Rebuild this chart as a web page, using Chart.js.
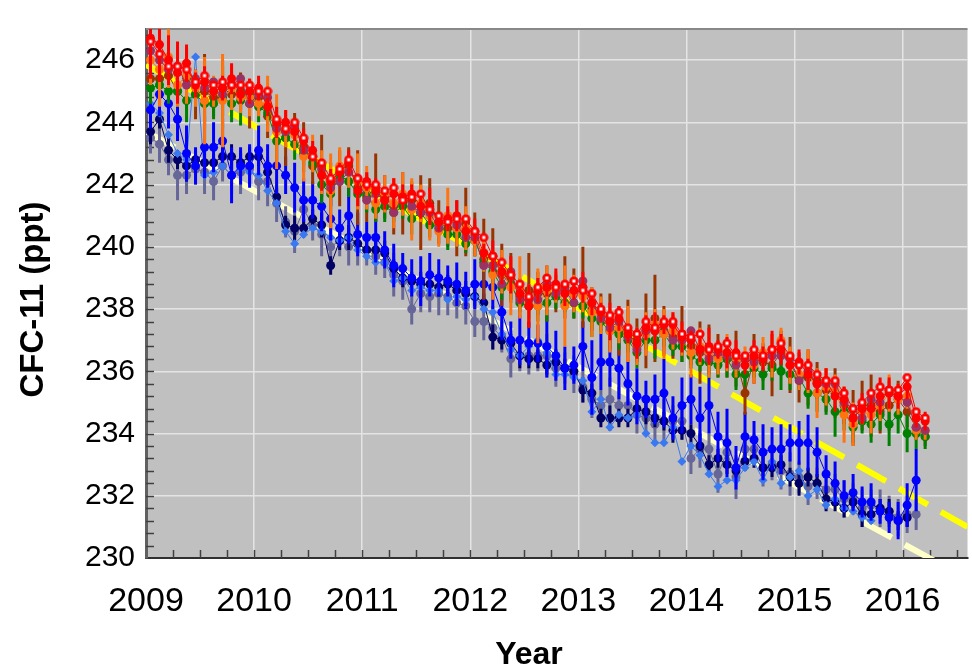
<!DOCTYPE html>
<html>
<head>
<meta charset="utf-8">
<script src="https://cdn.jsdelivr.net/npm/chart.js@4.4.1/dist/chart.umd.min.js"></script>
<style>
  html, body { margin: 0; padding: 0; background: #fff; }
  #wrap { width: 972px; height: 669px; }
</style>
</head>
<body>
<div id="wrap"><canvas id="chart" width="972" height="669"></canvas></div>
<script>
// monthly means (ppt), first value = Jan 2009
const startYear = 2009;
const yearTicks = [2009, 2010, 2011, 2012, 2013, 2014, 2015, 2016];
const ppTicks = [230, 232, 234, 236, 238, 240, 242, 244, 246];

// northern stations
const redRing = [
  246.6,246.2,245.8,245.8,245.7,245.3,245.5,245.2,245.3,245.2,245.2,245.2,
  245.0,245.0,244.1,243.8,244.0,243.5,242.9,242.7,242.2,242.5,242.8,242.2,
  242.0,242.0,241.8,241.9,241.5,241.6,241.7,241.2,241.0,240.8,240.9,240.9,
  240.5,240.3,239.7,239.5,239.1,238.8,238.4,238.7,239.0,238.7,238.8,238.9,
  238.6,238.5,238.0,237.8,237.9,237.4,237.2,237.6,237.4,237.6,237.6,237.2,
  237.1,237.2,236.7,236.8,236.9,236.5,236.5,236.7,236.5,236.7,236.9,236.5,
  236.2,236.2,235.9,235.7,235.7,235.3,234.8,235.0,235.3,235.5,235.4,235.4,
  235.8,234.7,234.5];
const red = [
  246.7,246.5,246.0,245.6,245.9,245.2,245.3,245.0,245.1,245.4,244.9,245.0,
  245.1,244.5,244.0,244.0,243.7,243.4,243.1,242.3,242.1,242.4,242.7,241.8,
  242.1,241.8,241.5,241.7,241.6,241.7,241.3,241.3,240.8,240.9,241.0,240.5,
  240.5,239.8,239.7,239.2,239.1,238.5,238.1,238.6,238.7,238.8,238.5,238.6,
  238.7,238.2,237.9,237.6,237.7,237.2,236.9,237.4,237.3,237.5,237.5,237.1,
  237.0,236.7,236.8,236.7,236.6,236.6,236.2,236.5,236.4,236.7,236.7,236.2,
  236.3,235.9,235.6,235.7,235.2,235.1,234.5,234.8,234.8,235.2,235.3,235.2,
  235.5,234.5,234.4];
const orange = [
  246.0,245.7,246.1,245.2,245.5,245.1,244.7,245.0,244.7,245.1,244.8,244.8,
  244.6,244.6,243.7,243.8,243.6,242.9,243.0,242.4,241.8,242.6,242.4,242.1,
  241.9,241.4,241.7,241.4,241.7,241.2,241.4,241.0,240.5,241.0,240.6,240.6,
  240.2,239.8,239.1,239.2,238.7,238.7,238.2,238.1,238.6,238.7,238.1,238.5,
  238.4,237.9,237.8,237.3,237.4,237.2,236.8,237.2,237.5,237.2,237.3,237.0,
  236.6,236.8,236.5,236.4,236.6,236.3,236.4,236.2,236.6,236.5,237.0,236.2,
  235.9,236.0,235.3,235.5,235.4,234.6,234.3,234.7,234.6,234.9,235.3,235.1,
  235.2,234.1,234.1];
const brown = [
  245.4,245.4,245.5,245.0,245.4,244.9,245.0,244.8,245.1,244.9,245.0,244.6,
  244.8,244.2,243.9,243.5,243.8,243.2,242.6,242.6,242.0,242.2,242.6,241.9,
  241.6,241.9,241.6,241.3,241.4,241.5,241.1,241.4,240.8,240.6,240.6,240.8,
  240.4,239.6,239.7,239.1,239.0,238.4,238.6,238.5,238.5,238.5,238.7,238.5,
  238.7,238.0,237.9,237.6,237.3,237.3,237.0,237.3,237.7,237.3,237.1,237.2,
  236.8,236.6,236.7,236.5,236.4,236.4,235.3,236.4,236.3,236.2,236.6,236.2,
  235.8,235.8,235.7,235.4,235.3,234.9,234.5,234.9,234.9,234.7,234.9,235.1,
  234.7,234.2,233.9];
const green = [
  245.1,245.2,245.0,245.0,244.7,244.9,244.6,244.6,244.8,244.6,244.7,244.9,
  244.5,244.3,243.4,243.5,243.3,243.0,242.7,242.0,241.7,242.3,242.1,241.7,
  241.7,241.2,241.3,241.1,241.3,240.9,241.1,240.7,240.7,240.4,240.4,240.1,
  240.2,239.5,239.2,238.7,238.8,238.2,238.1,238.1,238.2,238.4,238.2,238.2,
  238.1,237.7,237.6,237.3,237.2,237.0,236.6,237.0,237.0,237.2,236.8,236.8,
  236.5,236.3,236.3,236.2,236.4,235.9,235.9,236.1,235.9,236.1,236.0,235.9,
  235.8,235.3,235.3,235.1,234.7,234.7,234.2,234.4,234.3,234.6,234.3,234.6,
  234.0,234.0,233.9];
const purple = [
  246.3,246.0,245.7,245.8,245.2,245.4,245.1,245.3,244.9,245.2,245.4,244.6,
  244.9,244.8,243.8,243.7,243.9,243.1,242.9,242.5,241.9,242.1,242.4,242.2,
  241.5,241.7,241.5,241.1,241.6,241.3,241.1,241.1,240.6,240.9,240.7,240.3,
  240.3,239.4,239.4,238.8,239.2,238.3,238.3,238.3,238.8,238.5,238.6,238.2,
  238.9,238.2,237.7,237.4,237.6,237.1,236.7,237.3,237.3,237.5,237.0,237.0,
  237.3,236.7,236.4,236.6,236.5,236.2,236.4,236.3,236.4,236.5,236.5,236.4,
  235.7,236.0,235.6,235.6,235.6,235.0,234.8,234.5,235.1,235.0,235.4,235.2,
  235.0,234.2,234.1];

// southern stations
const blue = [
  244.4,244.9,244.6,244.1,243.0,242.6,243.2,243.2,243.4,242.3,242.6,242.6,
  243.1,242.6,242.6,242.3,241.9,241.5,241.5,241.3,240.9,240.6,241.0,240.4,
  240.3,240.3,239.9,239.4,239.3,239.0,238.9,239.1,239.0,238.9,238.8,238.6,
  238.8,238.8,238.7,237.9,237.0,237.0,236.9,236.9,236.8,236.5,236.1,236.2,
  236.8,235.8,236.3,236.3,236.1,235.6,235.2,235.1,235.1,235.3,234.5,234.9,
  235.1,234.5,234.9,233.9,233.7,232.9,233.9,233.8,233.4,233.5,233.5,233.7,
  233.7,233.7,233.4,232.7,232.4,232.0,232.1,231.8,231.8,231.5,231.3,231.2,
  231.7,232.5];
const navy = [
  243.7,244.1,243.1,242.8,242.6,242.8,242.7,242.7,242.9,242.9,242.7,242.9,
  242.9,242.4,241.6,240.7,240.6,240.6,240.9,240.7,239.4,240.2,240.3,240.1,
  239.9,239.9,239.8,239.3,239.0,238.9,238.8,238.8,238.7,238.8,238.6,238.5,
  238.4,238.2,237.1,237.0,236.9,236.5,236.4,236.4,236.2,236.3,236.1,236.0,
  235.4,235.3,234.5,234.5,234.5,234.5,234.8,234.7,234.5,234.4,234.1,234.1,
  234.0,233.6,233.0,233.2,233.0,232.8,233.1,233.2,232.9,232.9,233.0,232.6,
  232.4,232.6,232.4,231.9,231.8,231.6,231.8,231.4,231.4,231.6,231.5,231.2,
  231.3];
const lightBlue = [
  244.6,244.3,243.6,243.0,242.8,246.1,242.3,242.4,242.6,242.3,242.5,242.4,
  242.3,241.8,241.4,240.5,240.1,240.4,240.6,240.5,240.3,240.2,240.3,239.9,
  239.7,239.5,239.5,238.9,239.0,238.6,238.7,238.6,238.6,238.3,238.4,238.3,
  238.4,238.0,237.9,237.2,236.7,236.5,236.8,237.0,236.6,235.9,235.9,235.8,
  235.7,234.7,235.1,234.2,234.6,234.5,234.6,234.0,233.7,233.7,234.2,233.1,
  233.6,233.3,232.7,232.3,232.5,232.5,232.9,233.1,232.5,233.1,232.4,232.6,
  232.8,232.0,232.2,231.7,231.9,231.6,231.5,231.3,231.2];
const slate = [
  243.5,243.3,242.8,242.3,242.3,242.5,242.4,242.1,242.6,242.3,242.4,242.5,
  242.1,242.1,241.4,240.8,240.5,241.2,240.7,240.4,240.0,240.2,240.0,240.1,
  239.9,239.7,239.5,239.1,238.9,238.0,238.5,238.4,238.5,238.4,238.2,238.1,
  237.6,237.6,237.4,237.1,236.4,236.5,236.5,236.5,236.5,236.1,236.1,235.9,
  235.5,235.1,234.9,235.1,234.9,234.9,234.6,234.5,234.3,234.4,234.4,234.4,
  233.2,233.5,233.5,232.7,233.4,232.6,233.5,233.5,232.9,233.0,232.8,232.7,
  232.6,232.3,232.4,232.2,232.2,231.9,231.9,231.6,231.7,231.6,231.5,231.3,
  231.4,231.4];

// 1-sigma error bars (ppt)
const redErr = [
  1.3,1.2,0.8,1.0,0.6,0.4,0.5,0.3,0.4,0.5,0.3,0.4,
  0.4,0.3,0.5,0.4,0.3,0.4,0.3,0.5,0.4,0.3,0.4,0.5,
  0.3,0.4,0.3,0.5,0.4,0.3,0.4,0.6,0.3,0.4,0.5,0.3,
  0.4,0.3,0.5,0.4,0.6,0.3,0.7,0.4,0.3,0.5,0.4,0.3,
  0.5,0.4,0.3,0.6,0.4,0.3,0.5,0.4,0.6,0.3,0.4,0.5,
  0.3,0.4,0.6,0.3,0.5,0.4,0.3,0.5,0.4,0.6,0.5,0.4,
  0.4,0.5,0.3,0.4,0.5,0.4,0.3,0.5,0.4,0.6,0.5,0.4,
  0.4,0.3,0.3];
const orangeErr = [
  0.8,1.2,1.0,0.7,0.9,0.6,1.4,0.5,1.5,0.7,0.5,0.6,
  0.4,0.9,1.2,0.6,0.5,0.8,0.6,0.7,1.2,0.6,0.5,0.9,
  0.7,0.5,0.6,0.8,0.7,1.0,0.6,0.8,0.5,0.9,0.6,0.7,
  0.5,0.6,0.8,0.7,0.9,1.0,0.6,1.2,0.8,0.5,1.3,0.6,
  0.5,0.8,0.6,0.7,0.5,0.9,0.6,0.7,0.5,0.8,0.6,0.5,
  0.8,0.6,0.7,0.5,0.6,0.5,0.4,0.6,0.5,0.7,0.4,0.6,
  0.5,0.7,0.8,0.6,0.5,0.9,0.7,0.4,0.6,0.5,0.6,0.5,
  0.4,0.3,0.3];
const brownErr = [
  0.5,0.4,0.6,0.5,1.0,0.8,1.2,0.6,0.9,0.7,0.6,0.8,
  0.5,0.7,0.6,0.9,0.5,0.8,0.6,1.0,0.7,0.9,0.6,1.2,
  0.8,1.1,0.7,0.9,1.0,0.6,1.2,0.8,0.7,0.6,0.9,1.1,
  0.7,1.3,0.9,1.0,0.8,0.6,1.2,0.7,0.9,0.6,1.0,0.8,
  1.3,0.7,0.6,0.9,0.8,1.0,0.7,1.2,1.4,0.8,0.7,0.9,
  0.6,1.0,0.8,0.7,0.6,0.9,0.7,0.8,0.6,1.0,0.7,0.9,
  0.8,0.9,0.6,0.7,0.8,0.6,0.9,0.8,1.0,0.7,0.8,0.6,
  0.5,0.4,0.3];
const greenErr = [
  0.5,0.6,0.4,0.5,0.7,0.4,0.6,0.5,1.0,0.6,0.8,0.4,
  0.5,0.4,0.6,0.3,0.5,0.4,0.3,0.6,0.4,0.3,0.5,0.4,
  0.6,0.4,0.5,0.3,0.4,0.5,0.3,0.4,0.3,0.5,0.4,0.3,
  0.5,0.3,0.6,0.4,0.5,0.3,0.4,0.5,0.6,0.4,0.3,0.5,
  0.4,0.6,0.4,0.3,0.5,0.4,0.5,0.3,0.6,0.4,0.3,0.5,
  0.4,0.3,0.5,0.4,0.6,0.5,0.4,0.3,0.5,0.4,0.6,0.5,
  0.4,0.5,0.6,0.5,0.8,0.6,0.5,0.4,0.6,0.5,0.7,0.6,
  0.6,0.5,0.4];
const blueErr = [
  0.6,0.7,0.8,0.7,0.9,0.6,1.0,0.8,0.7,0.9,0.6,0.7,
  0.8,0.7,0.9,0.6,0.8,0.7,0.6,0.8,0.7,0.6,0.9,0.7,
  0.5,0.8,0.6,0.7,0.5,0.6,0.8,0.7,0.6,0.5,0.7,0.6,
  0.8,0.6,0.7,0.9,0.6,0.8,0.7,0.6,1.0,0.8,0.7,0.6,
  0.8,1.2,0.9,0.8,1.0,0.7,0.9,0.6,0.8,1.1,0.7,0.9,
  0.8,1.0,0.9,0.8,1.1,0.7,0.8,0.6,0.9,0.7,0.8,0.6,
  0.7,0.9,0.8,0.6,0.7,0.5,0.6,0.5,0.6,0.4,0.5,0.6,
  0.7,1.0];
const navyErr = [
  0.4,0.3,0.4,0.3,0.5,0.3,0.4,0.3,0.3,0.4,0.3,0.3,
  0.3,0.4,0.3,0.3,0.4,0.3,0.3,0.4,0.3,0.3,0.4,0.3,
  0.3,0.3,0.4,0.3,0.3,0.3,0.4,0.3,0.3,0.3,0.3,0.4,
  0.3,0.3,0.4,0.3,0.3,0.4,0.3,0.3,0.3,0.4,0.3,0.3,
  0.4,0.3,0.3,0.4,0.3,0.3,0.3,0.4,0.3,0.3,0.4,0.3,
  0.3,0.4,0.3,0.3,0.3,0.4,0.3,0.3,0.4,0.3,0.3,0.3,
  0.4,0.3,0.3,0.4,0.3,0.3,0.3,0.4,0.3,0.3,0.4,0.3,
  0.3];
const slateErr = [
  0.5,0.6,0.5,0.8,0.6,0.5,0.7,0.6,0.5,0.6,0.7,0.5,
  0.6,0.8,0.6,0.5,0.7,0.6,0.5,0.7,0.6,0.5,0.6,0.7,
  0.5,0.6,0.5,0.7,0.6,0.5,0.6,0.5,0.7,0.6,0.5,0.6,
  0.5,0.6,0.7,0.5,0.6,0.5,0.6,0.5,0.7,0.6,0.5,0.6,
  0.5,0.6,0.5,0.7,0.6,0.5,0.6,0.5,0.6,0.7,0.5,0.6,
  0.5,0.6,0.5,0.6,0.5,0.7,0.6,0.5,0.6,0.5,0.6,0.7,
  0.5,0.6,0.5,0.6,0.5,0.6,0.5,0.6,0.5,0.6,0.5,0.6,
  0.6,0.5];

// dashed trend lines, end points
const trendYears = [2009, 2016.6];
const trendNorth = [245.85, 231.0];
const trendSouth = [243.7, 229.33];

const FONT = "'Liberation Sans', Arial, sans-serif";

// monthly values -> {x, y} at mid month
function monthly(vals) {
  return vals.map((v, i) => ({ x: startYear + (i + 0.5) / 12, y: v }));
}

// red circle with white centre
function ringMarker() {
  const c = document.createElement('canvas');
  c.width = 10; c.height = 10;
  const g = c.getContext('2d');
  g.fillStyle = '#ff0000';
  g.beginPath(); g.arc(5, 5, 4.6, 0, Math.PI * 2); g.fill();
  g.fillStyle = '#ffffff';
  g.fillRect(3.5, 3.5, 3, 3);
  return c;
}

function series(vals, errs, color, style) {
  return {
    data: monthly(vals),
    errors: errs,
    showLine: true,
    borderColor: color,
    backgroundColor: color,
    borderWidth: 1,
    pointStyle: style || 'circle',
    pointRadius: 4.5,
    pointBorderWidth: 0,
    pointHoverRadius: 4.5
  };
}

function trend(vals, color) {
  return {
    data: trendYears.map((x, i) => ({ x: x, y: vals[i] })),
    showLine: true,
    borderColor: color,
    borderWidth: 6,
    borderDash: [33, 15],
    borderCapStyle: 'butt',
    pointRadius: 0
  };
}

const errorBars = {
  id: 'errorBars',
  beforeDatasetDraw(chart, args) {
    const ds = chart.data.datasets[args.index];
    if (!ds.errors) return;
    const { ctx, chartArea, scales } = chart;
    ctx.save();
    ctx.beginPath();
    ctx.rect(chartArea.left, chartArea.top, chartArea.right - chartArea.left, chartArea.bottom - chartArea.top);
    ctx.clip();
    ctx.strokeStyle = ds.borderColor;
    ctx.lineWidth = 3;
    ds.data.forEach((p, i) => {
      const e = ds.errors[i];
      if (!e) return;
      const x = scales.x.getPixelForValue(p.x);
      ctx.beginPath();
      ctx.moveTo(x, scales.y.getPixelForValue(p.y - e));
      ctx.lineTo(x, scales.y.getPixelForValue(p.y + e));
      ctx.stroke();
    });
    ctx.restore();
  }
};

const frame = {
  id: 'frame',
  beforeDraw(chart) {
    const { ctx, chartArea: a } = chart;
    ctx.save();
    ctx.fillStyle = '#ffffff';
    ctx.fillRect(0, 0, chart.width, chart.height);
    ctx.fillStyle = '#c0c0c0';
    ctx.fillRect(a.left, a.top, a.right - a.left, a.bottom - a.top);
    ctx.restore();
  },
  beforeDatasetsDraw(chart) {
    const { ctx, chartArea: a, scales } = chart;
    ctx.save();
    ctx.strokeStyle = '#404040';
    ctx.lineWidth = 1.5;
    // minor ticks, inside the plot
    for (let v = 230.4; v < 247; v += 0.4) {
      const y = Math.round(scales.y.getPixelForValue(v)) + 0.5;
      ctx.beginPath(); ctx.moveTo(a.left, y); ctx.lineTo(a.left + 8, y); ctx.stroke();
    }
    for (let t = 2009.25; t < 2016.6; t += 0.25) {
      const x = Math.round(scales.x.getPixelForValue(t)) + 0.5;
      ctx.beginPath(); ctx.moveTo(x, a.bottom); ctx.lineTo(x, a.bottom - 8); ctx.stroke();
    }
    ctx.strokeStyle = '#888888';
    ctx.lineWidth = 2;
    ctx.beginPath(); ctx.moveTo(a.left, a.top); ctx.lineTo(a.right, a.top); ctx.stroke();
    ctx.restore();
  },
  afterDraw(chart) {
    const { ctx, chartArea: a } = chart;
    ctx.save();
    ctx.fillStyle = '#000';
    ctx.font = 'bold 32px ' + FONT;
    ctx.textAlign = 'center';
    ctx.textBaseline = 'middle';
    ctx.fillText('Year', 529, 655);
    ctx.font = 'bold 33px ' + FONT;
    ctx.translate(34, (a.top + a.bottom) / 2 + 6);
    ctx.rotate(-Math.PI / 2);
    ctx.fillText('CFC-11 (ppt)', 0, 0);
    ctx.restore();
  }
};

new Chart(document.getElementById('chart'), {
  type: 'scatter',
  data: {
    datasets: [
      series(redRing, null, '#ff0000', ringMarker()),
      series(red, redErr, '#ff0000'),
      series(purple, null, '#993366'),
      series(orange, orangeErr, '#ff7410'),
      series(green, greenErr, '#008000'),
      series(brown, brownErr, '#993300'),
      series(blue, blueErr, '#0000ff'),
      series(lightBlue, null, '#3a78f2', 'rectRot'),
      series(navy, navyErr, '#000066'),
      series(slate, slateErr, '#666699'),
      trend(trendNorth, '#ffff00'),
      trend(trendSouth, '#ffffc8')
    ]
  },
  options: {
    responsive: false,
    animation: false,
    devicePixelRatio: 1,
    layout: { padding: { top: 9, right: 0, left: 0, bottom: 0 } },
    plugins: { legend: { display: false }, tooltip: { enabled: false } },
    scales: {
      x: {
        type: 'linear',
        min: 2009,
        max: 2016.6,
        afterBuildTicks: s => { s.ticks = yearTicks.map(v => ({ value: v })); },
        afterFit: s => { s.height = 111; },
        grid: { color: '#e4e4e4', lineWidth: 1.5, drawTicks: false },
        border: { color: '#303030', width: 2 },
        ticks: {
          callback: v => String(v),
          color: '#000',
          font: { family: FONT, size: 34 },
          padding: 23,
          maxRotation: 0
        }
      },
      y: {
        min: 230,
        max: 247,
        afterBuildTicks: s => { s.ticks = ppTicks.map(v => ({ value: v })); },
        afterFit: s => { s.width = 146; },
        grid: { color: '#e4e4e4', lineWidth: 1.5, drawTicks: false },
        border: { color: '#606060', width: 3 },
        ticks: {
          callback: v => String(v),
          color: '#000',
          font: { family: FONT, size: 30 },
          padding: 11
        }
      }
    }
  },
  plugins: [frame, errorBars]
});
</script>
</body>
</html>
